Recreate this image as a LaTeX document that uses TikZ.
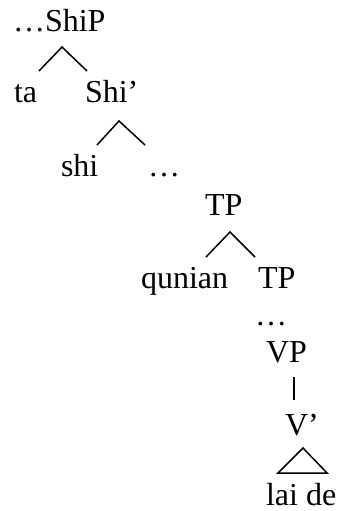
\documentclass[tikz,border=0pt]{standalone}
\usepackage{fontspec}
\setmainfont{Liberation Serif}
\tikzset{
  lbl/.style={anchor=base west, inner sep=0pt, outer sep=0pt, font=\fontsize{32bp}{38bp}\selectfont},
  branch/.style={line width=1.5bp, line cap=butt, line join=miter}
}
\begin{document}
\begin{tikzpicture}[x=1bp, y=-1bp]
\useasboundingbox (0,0) rectangle (339,511);
% labels
\node[lbl] (ship)   at (13,32)  {…ShiP};
\node[lbl] (ta)     at (14,103) {ta};
\node[lbl] (shibar) at (85,103) {Shi’};
\node[lbl] (shi)    at (61,177) {shi};
\node[lbl] (dotsA)  at (148,177) {…};
\node[lbl] (tpA)    at (205,215) {TP};
\node[lbl] (qunian) at (141,288) {qunian};
\node[lbl] (tpB)    at (258,288) {TP};
\node[lbl] (dotsB)  at (255,325) {…};
\node[lbl] (vp)     at (266,362) {VP};
\node[lbl] (vbar)   at (285,435) {V’};
\node[lbl] (laide)  at (266,505) {lai de};
% branch points
\coordinate (shipTop) at (62,47);
\coordinate (shipL)   at (39,71);
\coordinate (shipR)   at (87,71);
\coordinate (shibTop) at (119,121);
\coordinate (shibL)   at (97,145);
\coordinate (shibR)   at (145,145);
\coordinate (tpTop)   at (230,232);
\coordinate (tpL)     at (206,257);
\coordinate (tpR)     at (255,257);
\coordinate (vpTop)   at (294,377);
\coordinate (vpBot)   at (294,400);
\coordinate (triTop)  at (303,448);
\coordinate (triL)    at (278,473);
\coordinate (triR)    at (327,473);
% branches
\draw[branch] (shipL) -- (shipTop) -- (shipR);
\draw[branch] (shibL) -- (shibTop) -- (shibR);
\draw[branch] (tpL) -- (tpTop) -- (tpR);
\draw[branch] (vpTop) -- (vpBot);
\draw[branch] (triL) -- (triTop) -- (triR) -- cycle;
\end{tikzpicture}
\end{document}
